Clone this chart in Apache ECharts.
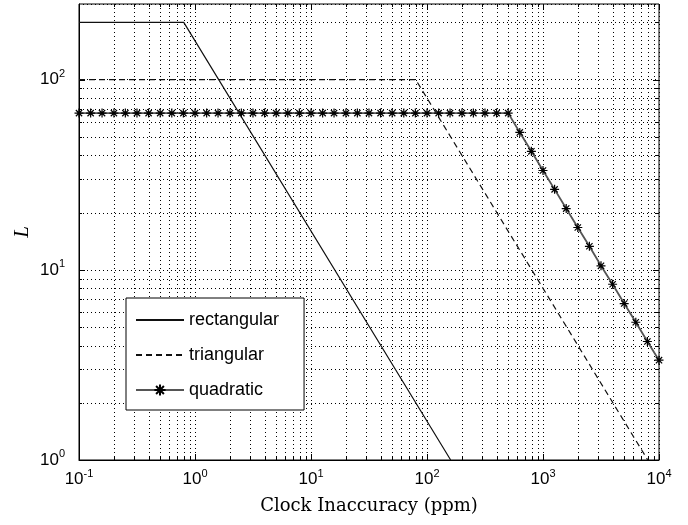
<!DOCTYPE html>
<html>
<head>
<meta charset="utf-8">
<script src="https://cdn.jsdelivr.net/npm/echarts@6/dist/echarts.min.js"></script>
<style>
  html, body { margin: 0; padding: 0; background: #fff; }
  #chart { width: 688px; height: 525px; }
</style>
</head>
<body>
<div id="chart"></div>
<script>
// data
const rectX = [0.1, 0.8, 160];
const rectL = [200, 200, 1];
const triX = [0.1, 80, 8000];
const triL = [100, 100, 1];
const quadX = [0.1, 0.126, 0.158, 0.2, 0.251, 0.316, 0.398, 0.501, 0.631, 0.794,
  1, 1.26, 1.58, 2, 2.51, 3.16, 3.98, 5.01, 6.31, 7.94,
  10, 12.6, 15.8, 20, 25.1, 31.6, 39.8, 50.1, 63.1, 79.4,
  100, 126, 158, 200, 251, 316, 398, 501, 631, 794,
  1000, 1259, 1585, 1995, 2512, 3162, 3981, 5012, 6310, 7943, 10000];
const quadL = [66.7, 66.7, 66.7, 66.7, 66.7, 66.7, 66.7, 66.7, 66.7, 66.7,
  66.7, 66.7, 66.7, 66.7, 66.7, 66.7, 66.7, 66.7, 66.7, 66.7,
  66.7, 66.7, 66.7, 66.7, 66.7, 66.7, 66.7, 66.7, 66.7, 66.7,
  66.7, 66.7, 66.7, 66.7, 66.7, 66.7, 66.7, 66.7, 52.8, 42.0,
  33.3, 26.5, 21.0, 16.7, 13.3, 10.5, 8.4, 6.65, 5.3, 4.2, 3.35];
const seriesNames = ["rectangular", "triangular", "quadratic"];

// tick / grid positions
const xMajor = [0.1, 1, 10, 100, 1000, 10000];
const xMinor = [0.2, 0.3, 0.4, 0.5, 0.6, 0.7, 0.8, 0.9,
  2, 3, 4, 5, 6, 7, 8, 9,
  20, 30, 40, 50, 60, 70, 80, 90,
  200, 300, 400, 500, 600, 700, 800, 900,
  2000, 3000, 4000, 5000, 6000, 7000, 8000, 9000];
const yMajor = [1, 10, 100];
const yMinor = [2, 3, 4, 5, 6, 7, 8, 9, 20, 30, 40, 50, 60, 70, 80, 90, 200];

const zip = (xs, ys) => xs.map((x, i) => [x, ys[i]]);

const gridData = []
  .concat(xMajor.map(v => [v, 1, 0, 1]))
  .concat(xMinor.map(v => [v, 1, 0, 0]))
  .concat(yMajor.map(v => [0.1, v, 1, 1]))
  .concat(yMinor.map(v => [0.1, v, 1, 0]));

const dotted = { stroke: "#000", lineWidth: 1, lineDash: [1, 3] };
const solid = { stroke: "#000", lineWidth: 1 };

function seg(x1, y1, x2, y2, style) {
  return { type: "line", shape: { x1: x1, y1: y1, x2: x2, y2: y2 }, style: style, silent: true };
}

function powLabel(value) {
  const e = Math.round(Math.log10(value));
  if (Math.abs(Math.log10(value) - e) > 1e-6) return "";
  return "{b|10}{s|" + e + "}";
}

const labelRich = {
  b: { fontSize: 17, fontFamily: "Liberation Sans", color: "#000" },
  s: { fontSize: 11, fontFamily: "Liberation Sans", color: "#000", padding: [0, 0, 12, 0] }
};

const noSymbol = { color: "rgba(0,0,0,0)", borderColor: "rgba(0,0,0,0)", borderWidth: 0 };

const chart = echarts.init(document.getElementById("chart"), null, { renderer: "canvas" });

const option = {
  animation: false,
  backgroundColor: "#fff",
  grid: {
    left: 79, right: 29, top: 4, bottom: 65,
    show: true, borderColor: "#000", borderWidth: 1, backgroundColor: "#fff"
  },
  legend: {
    data: [
      { name: "rectangular", itemStyle: noSymbol },
      { name: "triangular", itemStyle: noSymbol },
      { name: "quadratic" }
    ],
    orient: "vertical",
    left: 126, top: 298,
    padding: [13, 25, 11, 9],
    itemGap: 17,
    itemWidth: 48,
    itemHeight: 14,
    backgroundColor: "#fff",
    borderColor: "#000",
    borderWidth: 1,
    borderRadius: 0,
    textStyle: { fontSize: 18, fontFamily: "Liberation Sans", color: "#000", lineHeight: 18 }
  },
  xAxis: {
    type: "log",
    logBase: 10,
    min: 0.1,
    max: 10000,
    name: "Clock Inaccuracy (ppm)",
    nameLocation: "middle",
    nameGap: 37,
    nameTextStyle: { fontSize: 18, fontFamily: "DejaVu Serif", color: "#000" },
    axisLine: { show: true, lineStyle: { color: "#000", width: 1 } },
    axisTick: { show: false },
    axisLabel: { formatter: powLabel, rich: labelRich, margin: 8, color: "#000" },
    splitLine: { show: true, lineStyle: { color: "#000", width: 1, type: [1, 3] } }
  },
  yAxis: {
    type: "log",
    logBase: 10,
    min: 1,
    max: 250,
    name: "L",
    nameLocation: "middle",
    nameGap: 46,
    nameMoveOverlap: false,
    nameTextStyle: { fontSize: 21, fontFamily: "Liberation Serif", fontStyle: "italic", color: "#000" },
    axisLine: { show: true, lineStyle: { color: "#000", width: 1 } },
    axisTick: { show: false },
    axisLabel: { formatter: powLabel, rich: labelRich, margin: 14, color: "#000" },
    splitLine: { show: true, lineStyle: { color: "#000", width: 1, type: [1, 3] } }
  },
  series: [
    {
      // minor grid lines and inward ticks on all four sides
      type: "custom",
      name: "grid",
      silent: true,
      z: 1,
      clip: false,
      encode: { x: 0, y: 1 },
      data: gridData,
      renderItem: function (params, api) {
        const cs = params.coordSys;
        const p = api.coord([api.value(0), api.value(1)]);
        const major = api.value(3) === 1;
        const len = major ? 6 : 3;
        const children = [];
        if (api.value(2) === 0) {
          const x = Math.round(p[0]) + 0.5;
          const y0 = cs.y, y1 = cs.y + cs.height;
          if (!major) children.push(seg(x, y0, x, y1, dotted));
          children.push(seg(x, y1, x, y1 - len, solid));
          children.push(seg(x, y0, x, y0 + len, solid));
        } else {
          const y = Math.round(p[1]) + 0.5;
          const x0 = cs.x, x1 = cs.x + cs.width;
          if (!major) children.push(seg(x0, y, x1, y, dotted));
          children.push(seg(x0, y, x0 + len, y, solid));
          children.push(seg(x1, y, x1 - len, y, solid));
        }
        return { type: "group", children: children };
      }
    },
    {
      name: "rectangular",
      type: "line",
      z: 3,
      symbol: "none",
      data: zip(rectX, rectL),
      lineStyle: { color: "#111", width: 1.2 },
      itemStyle: { color: "#111" }
    },
    {
      name: "triangular",
      type: "line",
      z: 3,
      symbol: "none",
      data: zip(triX, triL),
      lineStyle: { color: "#111", width: 1.2, type: [6, 4] },
      itemStyle: { color: "#111" }
    },
    {
      name: "quadratic",
      type: "line",
      z: 4,
      symbol: "path://M0,-1L0,1M-1,0L1,0M-0.7,-0.7L0.7,0.7M-0.7,0.7L0.7,-0.7",
      symbolSize: 9,
      showAllSymbol: true,
      data: zip(quadX, quadL),
      lineStyle: { color: "#555", width: 1.8 },
      itemStyle: { color: "#000", borderColor: "#000", borderWidth: 1.2 }
    }
  ]
};

chart.setOption(option);
</script>
</body>
</html>
